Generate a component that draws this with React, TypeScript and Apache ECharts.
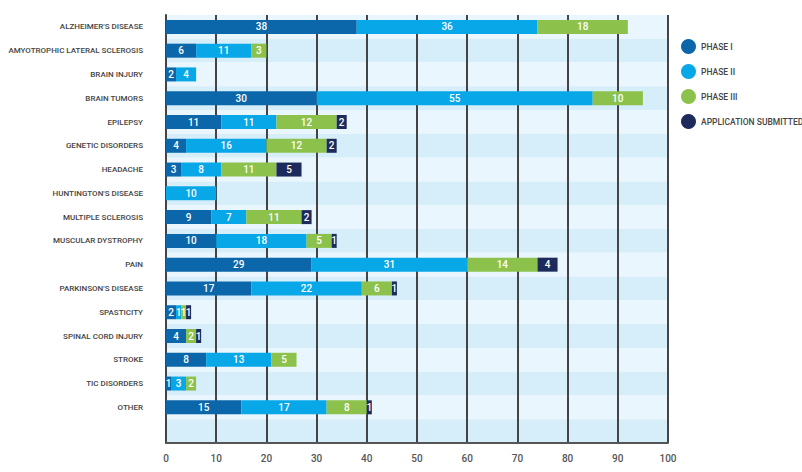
import React, { useEffect, useRef } from "react";
import * as echarts from "echarts";

const categories = [
  "ALZHEIMER'S DISEASE",
  "AMYOTROPHIC LATERAL SCLEROSIS",
  "BRAIN INJURY",
  "BRAIN TUMORS",
  "EPILEPSY",
  "GENETIC DISORDERS",
  "HEADACHE",
  "HUNTINGTON'S DISEASE",
  "MULTIPLE SCLEROSIS",
  "MUSCULAR DYSTROPHY",
  "PAIN",
  "PARKINSON'S DISEASE",
  "SPASTICITY",
  "SPINAL CORD INJURY",
  "STROKE",
  "TIC DISORDERS",
  "OTHER",
];

const phase1 = [38, 6, 2, 30, 11, 4, 3, 0, 9, 10, 29, 17, 2, 4, 8, 1, 15];
const phase2 = [36, 11, 4, 55, 11, 16, 8, 10, 7, 18, 31, 22, 1, 0, 13, 3, 17];
const phase3 = [18, 3, 0, 10, 12, 12, 11, 0, 11, 5, 14, 6, 1, 2, 5, 2, 8];
const submitted = [0, 0, 0, 0, 2, 2, 5, 0, 2, 1, 4, 1, 1, 1, 0, 0, 1];

const seriesNames = ["PHASE I", "PHASE II", "PHASE III", "APPLICATION SUBMITTED"];
const seriesColors = ["#0b67a9", "#08a7e8", "#8cc24c", "#1d2a5c"];
const xTicks = { min: 0, max: 100, interval: 10 };

const FONT = "Roboto, sans-serif";

export default function App() {
  const ref = useRef<HTMLDivElement>(null);
  useEffect(() => {
    if (!ref.current) return;
    const chart = echarts.init(ref.current, null, { renderer: "svg" });
    const cats = [...categories, ""];
    const pad = (a: number[]) => [...a, 0];
    const datasets = [phase1, phase2, phase3, submitted];
    chart.setOption({
      animation: false,
      textStyle: { fontFamily: FONT },
      legend: {
        orient: "vertical",
        left: 676,
        top: 34,
        icon: "circle",
        itemWidth: 15,
        itemHeight: 15,
        itemGap: 10,
        itemTextGap: 6,
        data: seriesNames,
        textStyle: { color: "#444", fontSize: 8.5, fontWeight: 500, fontFamily: FONT },
      },
      grid: {
        left: 166,
        right: 134,
        top: 15,
        height: 428,
        containLabel: false,
        outerBoundsMode: "none",
      },
      xAxis: {
        type: "value",
        min: xTicks.min,
        max: xTicks.max,
        interval: xTicks.interval,
        axisLine: { show: true, lineStyle: { color: "#555", width: 2 } },
        axisTick: { show: false },
        axisLabel: { color: "#555", fontSize: 10, fontWeight: 500, margin: 10, fontFamily: FONT },
        splitLine: { show: true, lineStyle: { color: "#444", width: 2 } },
      },
      yAxis: {
        type: "category",
        inverse: true,
        data: cats,
        axisLine: { show: true, lineStyle: { color: "#444", width: 2 } },
        axisTick: { show: false },
        axisLabel: { color: "#444", fontSize: 8, fontWeight: 500, margin: 23, fontFamily: FONT },
        splitArea: { show: true, areaStyle: { color: ["#e9f6fd", "#d6eefa"] } },
      },
      series: datasets.map((d, i) => ({
        name: seriesNames[i],
        type: "bar",
        stack: "total",
        data: pad(d),
        barWidth: 14,
        itemStyle: { color: seriesColors[i] },
        label: {
          show: true,
          position: "inside",
          color: "#fff",
          fontSize: 10,
          fontWeight: 500,
          fontFamily: FONT,
          formatter: (p: any) => (p.value ? String(p.value) : ""),
        },
      })),
    });
    return () => chart.dispose();
  }, []);
  return (
    <div
      ref={ref}
      style={{ position: "absolute", left: 0, top: 0, width: 802, height: 472 }}
    />
  );
}
